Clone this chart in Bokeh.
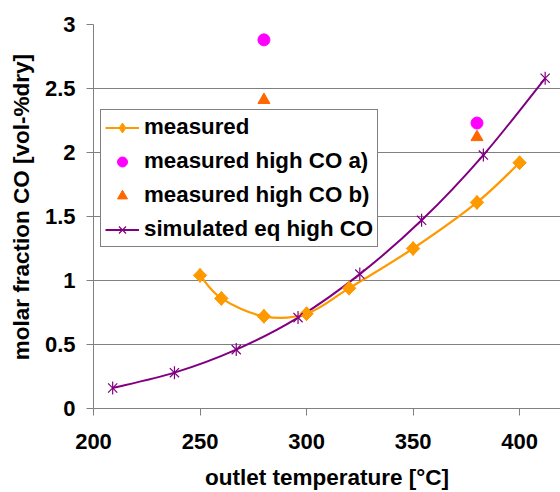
import math
from bokeh.plotting import figure
from bokeh.models import Range1d, FixedTicker, Legend, LegendItem
from bokeh.embed import file_html
from bokeh.resources import INLINE

# ---- data ----
meas_t = [250, 260, 280, 300, 320, 350, 380, 400]
meas_co = [1.04, 0.86, 0.72, 0.74, 0.94, 1.25, 1.61, 1.92]

high_a_t = [280, 380]
high_a_co = [2.88, 2.23]

high_b_t = [280, 380]
high_b_co = [2.41, 2.12]

sim_t = [209, 238, 267, 296, 325, 354, 383, 412]
sim_co = [0.16, 0.28, 0.46, 0.71, 1.05, 1.47, 1.98, 2.58]

x_ticks = [200, 250, 300, 350, 400]
x_tick_labels = ["200", "250", "300", "350", "400"]
y_ticks = [0, 0.5, 1, 1.5, 2, 2.5, 3]
y_tick_labels = ["0", "0.5", "1", "1.5", "2", "2.5", "3"]

labels = ["measured", "measured high CO a)", "measured high CO b)", "simulated eq high CO"]
x_title = "outlet temperature [°C]"
y_title = "molar fraction CO [vol-%dry]"

FONT = "Liberation Sans"


def smooth(xs, ys):
    """Bezier segments (Catmull-Rom style) through the data points, like a smoothed line."""
    n = len(xs)
    out = dict(x0=[], y0=[], x1=[], y1=[], cx0=[], cy0=[], cx1=[], cy1=[])
    for i in range(n - 1):
        ip = max(i - 1, 0)
        inn = min(i + 2, n - 1)
        out["x0"].append(xs[i]); out["y0"].append(ys[i])
        out["x1"].append(xs[i + 1]); out["y1"].append(ys[i + 1])
        out["cx0"].append(xs[i] + (xs[i + 1] - xs[ip]) / 6)
        out["cy0"].append(ys[i] + (ys[i + 1] - ys[ip]) / 6)
        out["cx1"].append(xs[i + 1] - (xs[inn] - xs[i]) / 6)
        out["cy1"].append(ys[i + 1] - (ys[inn] - ys[i]) / 6)
    return out


p = figure(width=560, height=492, output_backend="svg", toolbar_location=None,
           x_range=Range1d(200, 419.2), y_range=Range1d(0, 3),
           min_border_left=93, min_border_right=0, min_border_top=24, min_border_bottom=84)
p.outline_line_color = None
p.background_fill_color = "white"
p.border_fill_color = "white"

# axes
for ax in (p.xaxis, p.yaxis):
    ax.axis_line_color = "#808080"
    ax.axis_line_width = 1
    ax.major_tick_line_color = "#808080"
    ax.major_tick_out = 7
    ax.major_tick_in = 0
    ax.minor_tick_line_color = None
    ax.major_label_text_font = FONT
    ax.major_label_text_font_style = "bold"
    ax.major_label_text_font_size = "22px"
    ax.major_label_text_color = "black"
    ax.axis_label_text_font = FONT
    ax.axis_label_text_font_style = "bold"
    ax.axis_label_text_font_size = "22.5px"
    ax.axis_label_text_color = "black"

p.xaxis.ticker = FixedTicker(ticks=x_ticks)
p.xaxis.major_label_overrides = {t: l for t, l in zip(x_ticks, x_tick_labels)}
p.xaxis.major_label_standoff = 18
p.xaxis.axis_label = x_title
p.xaxis.axis_label_standoff = 13

p.yaxis.ticker = FixedTicker(ticks=y_ticks)
p.yaxis.major_label_overrides = {t: l for t, l in zip(y_ticks, y_tick_labels)}
p.yaxis.major_label_standoff = 11
# leading no-break spaces shift the centred title upwards, as in the original
p.yaxis.axis_label = "\u00a0\u00a0\u00a0" + y_title
p.yaxis.axis_label_standoff = 8

p.xgrid.grid_line_color = None
p.ygrid.grid_line_color = "#808080"
p.ygrid.grid_line_width = 1
p.ygrid.ticker = FixedTicker(ticks=y_ticks)

ORANGE = "#FF9900"
PURPLE = "#800080"
MAGENTA = "#FF00FF"
ORANGE_RED = "#FF6600"

# lines
r_sim_line = p.bezier(**smooth(sim_t, sim_co), line_color=PURPLE, line_width=2)
r_meas_line = p.bezier(**smooth(meas_t, meas_co), line_color=ORANGE, line_width=2.2)

# markers
r_meas_leg = p.scatter(meas_t, meas_co, marker="diamond", size=14,
                       fill_color=ORANGE, line_color=ORANGE)
r_meas_pts = p.scatter(meas_t, meas_co, marker="square", angle=math.pi / 4, size=9.5,
                       fill_color=ORANGE, line_color=ORANGE)
r_sim_x = p.scatter(sim_t, sim_co, marker="x", size=13, line_color=PURPLE, line_width=1.2)
r_sim_v = p.scatter(sim_t, sim_co, marker="dash", angle=math.pi / 2, size=13,
                    line_color=PURPLE, line_width=1.2)
r_a = p.scatter(high_a_t, high_a_co, marker="circle", size=12, fill_color=MAGENTA, line_color=MAGENTA)
r_b = p.scatter(high_b_t, high_b_co, marker="triangle", size=12, fill_color=ORANGE_RED,
                line_color=ORANGE_RED)

legend = Legend(items=[
    LegendItem(label=labels[0], renderers=[r_meas_line, r_meas_leg]),
    LegendItem(label=labels[1], renderers=[r_a]),
    LegendItem(label=labels[2], renderers=[r_b]),
    LegendItem(label=labels[3], renderers=[r_sim_line, r_sim_x]),
], location=(7, 161))
legend.label_text_font = FONT
legend.label_text_font_style = "bold"
legend.label_text_font_size = "22.3px"
legend.label_text_color = "black"
legend.border_line_color = "black"
legend.border_line_width = 1
legend.background_fill_color = "white"
legend.background_fill_alpha = 1
legend.padding = 4
legend.spacing = 8
legend.margin = 0
legend.glyph_width = 34
legend.glyph_height = 25
legend.label_height = 25
legend.label_standoff = 5
p.add_layout(legend, "center")

open("out.html", "w").write(file_html(p, INLINE))
